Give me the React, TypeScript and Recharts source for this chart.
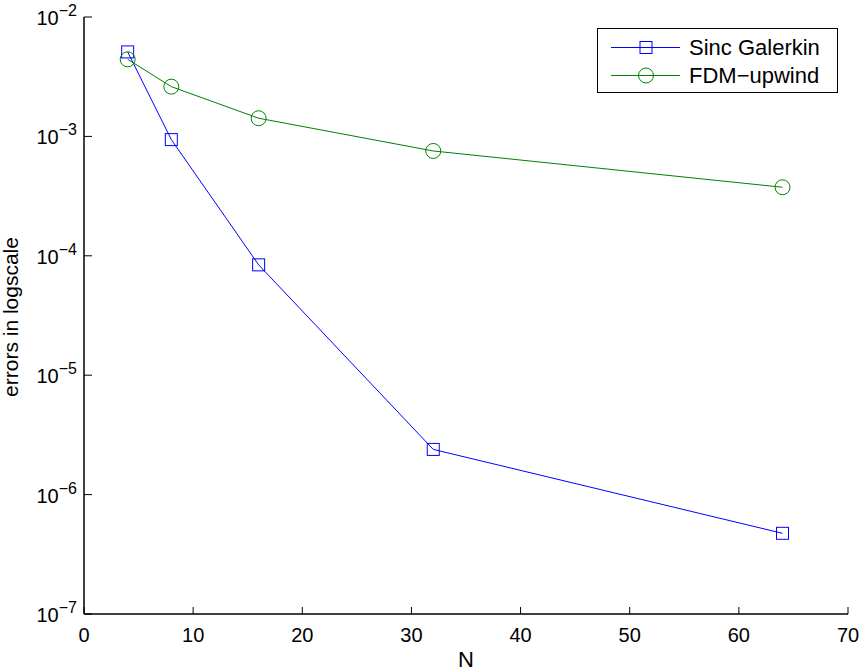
import { LineChart, Line, XAxis, YAxis, Label } from "recharts"

const nValues = [4, 8, 16, 32, 64]
const sincGalerkin = [5.1e-3, 9.4e-4, 8.4e-5, 2.39e-6, 4.74e-7]
const fdmUpwind = [4.42e-3, 2.61e-3, 1.42e-3, 7.55e-4, 3.75e-4]

const xTicks = [0, 10, 20, 30, 40, 50, 60, 70]
const yDecades = [-7, -6, -5, -4, -3, -2]
const minorSteps = [2, 3, 4, 5, 6, 7, 8, 9]

const BLUE = "#0000ff"
const GREEN = "#008000"
const FONT = "'Liberation Sans', Arial, Helvetica, sans-serif"

// plot frame (MATLAB-like box)
const LEFT = 84
const TOP = 17
const RIGHT = 848
const BOTTOM = 614

const data = nValues.map((n, i) => ({ n, sinc: sincGalerkin[i], fdm: fdmUpwind[i] }))

const majorTicks = yDecades.map((e) => Math.pow(10, e))
const minorTicks: number[] = []
yDecades.slice(0, -1).forEach((e) => minorSteps.forEach((m) => minorTicks.push(m * Math.pow(10, e))))

const tickStroke = { stroke: "#000", strokeWidth: 1 }
const frame = { stroke: "#000", strokeWidth: 1.5 }

const BottomTick = (props: any) => {
  const { x, payload } = props
  return (
    <text x={x} y={BOTTOM + 28} textAnchor="middle" fontSize={20} fontFamily={FONT} fill="#000">
      {payload.value}
    </text>
  )
}

const LeftTick = (props: any) => {
  const { y, payload } = props
  const e = Math.round(Math.log10(payload.value))
  return (
    <text x={LEFT - 7} y={y + 8} textAnchor="end" fontSize={20} fontFamily={FONT} fill="#000">
      <tspan>10</tspan>
      <tspan dy={-9} fontSize={16}>{"\u2212" + Math.abs(e)}</tspan>
    </text>
  )
}

const Square = (props: any) => {
  const { cx, cy, index } = props
  return <rect key={"s" + index} x={cx - 6} y={cy - 6} width={12} height={12} fill="none" stroke={BLUE} />
}

const Circle = (props: any) => {
  const { cx, cy, index } = props
  return <circle key={"c" + index} cx={cx} cy={cy} r={7.5} fill="none" stroke={GREEN} />
}

const LegendBox = () => (
  <svg width={241} height={65} style={{ position: "absolute", left: 597, top: 28 }}>
    <rect x={0.5} y={0.5} width={240} height={64} fill="#fff" stroke="#000" />
    <line x1={14} x2={83} y1={19.5} y2={19.5} stroke={BLUE} />
    <rect x={43} y={13.5} width={12} height={12} fill="none" stroke={BLUE} />
    <text x={92} y={27} fontSize={22} fontFamily={FONT} fill="#000">Sinc Galerkin</text>
    <line x1={14} x2={83} y1={47.5} y2={47.5} stroke={GREEN} />
    <circle cx={49} cy={47.5} r={7.5} fill="none" stroke={GREEN} />
    <text x={92} y={55} fontSize={22} fontFamily={FONT} fill="#000">FDM−upwind</text>
  </svg>
)

export default function App() {
  return (
    <div style={{ position: "absolute", left: 0, top: 0, width: 860, height: 671, background: "#fff" }}>
      <LineChart
        width={860}
        height={671}
        data={data}
        margin={{ top: TOP, right: 860 - RIGHT, bottom: 671 - BOTTOM - 40, left: LEFT - 60 }}
      >
        <XAxis
          xAxisId="bottom"
          dataKey="n"
          type="number"
          domain={[0, 70]}
          ticks={xTicks}
          interval={0}
          height={40}
          tickSize={-7}
          tickMargin={0}
          tickLine={tickStroke}
          tick={<BottomTick />}
          axisLine={frame}
        >
          <Label
            content={() => (
              <text x={466} y={667} textAnchor="middle" fontSize={22} fontFamily={FONT} fill="#000">N</text>
            )}
          />
        </XAxis>
        <XAxis
          xAxisId="top"
          orientation="top"
          dataKey="n"
          type="number"
          domain={[0, 70]}
          ticks={xTicks}
          interval={0}
          height={0}
          tickSize={-7}
          tickLine={tickStroke}
          tick={false}
          axisLine={frame}
        />
        <YAxis
          yAxisId="left"
          type="number"
          scale="log"
          domain={[1e-7, 1e-2]}
          allowDataOverflow
          ticks={majorTicks}
          interval={0}
          width={60}
          tickSize={-8}
          tickMargin={0}
          tickLine={tickStroke}
          tick={<LeftTick />}
          axisLine={frame}
        >
          <Label
            content={() => (
              <text
                x={18}
                y={317}
                transform="rotate(-90 18 317)"
                textAnchor="middle"
                fontSize={21}
                fontFamily={FONT}
                fill="#000"
              >
                errors in logscale
              </text>
            )}
          />
        </YAxis>
        <YAxis
          yAxisId="leftMinor"
          type="number"
          scale="log"
          domain={[1e-7, 1e-2]}
          allowDataOverflow
          ticks={minorTicks}
          interval={0}
          width={0}
          tickSize={-4}
          tickLine={tickStroke}
          tick={false}
          axisLine={false}
        />
        <YAxis
          yAxisId="right"
          orientation="right"
          type="number"
          scale="log"
          domain={[1e-7, 1e-2]}
          allowDataOverflow
          ticks={majorTicks}
          interval={0}
          width={0}
          tickSize={-8}
          tickLine={tickStroke}
          tick={false}
          axisLine={frame}
        />
        <YAxis
          yAxisId="rightMinor"
          orientation="right"
          type="number"
          scale="log"
          domain={[1e-7, 1e-2]}
          allowDataOverflow
          ticks={minorTicks}
          interval={0}
          width={0}
          tickSize={-4}
          tickLine={tickStroke}
          tick={false}
          axisLine={false}
        />
        <Line
          xAxisId="bottom"
          yAxisId="left"
          dataKey="sinc"
          name="Sinc Galerkin"
          stroke={BLUE}
          strokeWidth={1}
          dot={<Square />}
          isAnimationActive={false}
        />
        <Line
          xAxisId="bottom"
          yAxisId="left"
          dataKey="fdm"
          name="FDM-upwind"
          stroke={GREEN}
          strokeWidth={1}
          dot={<Circle />}
          isAnimationActive={false}
        />
      </LineChart>
      <LegendBox />
    </div>
  )
}
